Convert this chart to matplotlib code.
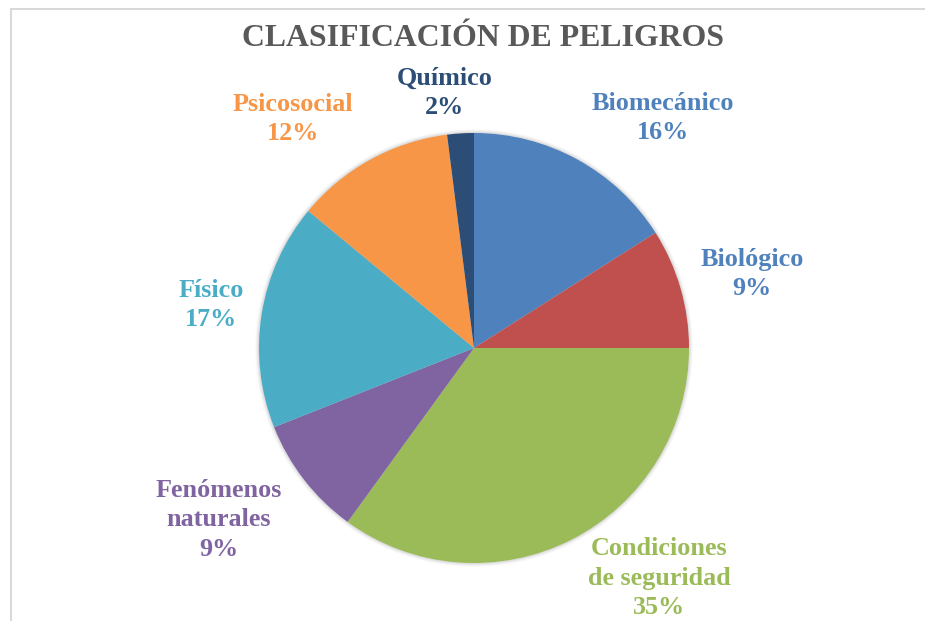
import matplotlib
matplotlib.use('Agg')
import matplotlib.pyplot as plt
from matplotlib.patches import Circle

# ==========================================
# Data
# ==========================================
categories = ['Biomecánico', 'Biológico', 'Condiciones\nde seguridad',
              'Fenómenos\nnaturales', 'Físico', 'Psicosocial', 'Químico']
percentages = [16, 9, 35, 9, 17, 12, 2]
colors = ['#4F81BD', '#C0504D', '#9BBB59', '#8064A2', '#4BACC6', '#F79646', '#2C4D75']
# the Biológico label is drawn in blue in the original
label_colors = ['#4F81BD', '#4F81BD', '#9BBB59', '#8064A2', '#4BACC6', '#F79646', '#2C4D75']

# label centres in pixels (layout only)
label_pos = [(663, 118), (752, 274), (659, 578), (219, 520),
             (211, 305), (293, 119), (445, 93)]

W, H = 925, 621
CX, CY, R = 474, 348, 215

plt.rcParams['font.family'] = ['Liberation Serif', 'DejaVu Serif']

fig = plt.figure(figsize=(W / 100, H / 100), dpi=100)
ax = fig.add_axes([0, 0, 1, 1])

# soft shadow behind the pie
for i, a in enumerate([0.05, 0.04, 0.03, 0.02]):
    ax.add_patch(Circle((CX, H - CY), R + 1 + i, color='#000000', alpha=a, lw=0, zorder=0))

ax.pie(percentages, colors=colors, startangle=90, counterclock=False,
       center=(CX, H - CY), radius=R, wedgeprops=dict(linewidth=0))

for cat, pct, col, (x, y) in zip(categories, percentages, label_colors, label_pos):
    ax.text(x, H - y, f"{cat}\n{pct}%", color=col, fontsize=18.8, fontweight='bold',
            ha='center', va='center', linespacing=1.38)

ax.text(483, H - 46, 'CLASIFICACIÓN DE PELIGROS', color='#595959', fontsize=22.9,
        fontweight='bold', ha='center', va='baseline')

# chart frame (cropped)
ax.plot([11, 11, W + 5], [-5, H - 9, H - 9], color='#D9D9D9', lw=1.5, solid_joinstyle='miter')

ax.set_xlim(0, W)
ax.set_ylim(0, H)
ax.set_aspect('auto')
ax.axis('off')

fig.savefig('out.png', dpi=100)
